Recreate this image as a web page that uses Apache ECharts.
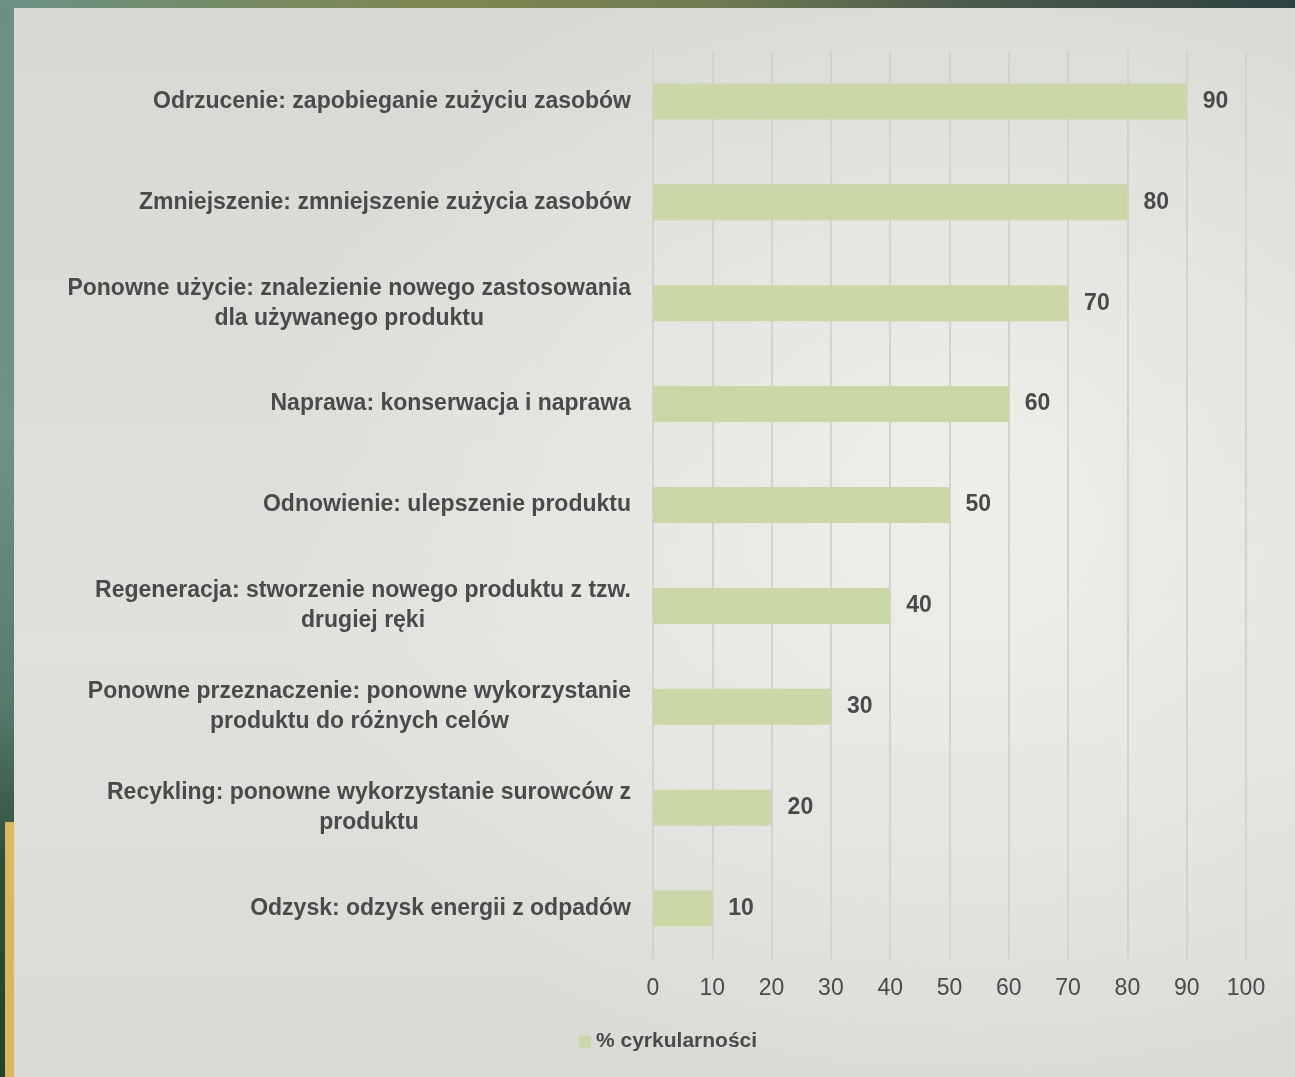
<!DOCTYPE html>
<html>
<head>
<meta charset="utf-8">
<script src="https://cdn.jsdelivr.net/npm/echarts@6/dist/echarts.min.js"></script>
<style>
  html, body { margin: 0; padding: 0; width: 1295px; height: 1077px; overflow: hidden; }
  body { position: relative; background: #5e857a; }
  #topband { position: absolute; left: 0; top: 0; width: 1295px; height: 8px;
    background: linear-gradient(90deg, #6b9185 0%, #778a62 20%, #7e8650 35%, #6f7b52 55%, #4a5a4c 75%, #2f4140 100%); }
  #leftband { position: absolute; left: 0; top: 8px; width: 14px; height: 1069px;
    background: linear-gradient(180deg, #6a9084 0%, #6d9287 40%, #567a6c 65%, #2f4d3e 80%, #24402f 100%); }
  #yellow { position: absolute; left: 5px; top: 822px; width: 9px; height: 255px; background: #d9b85e; }
  #panel { position: absolute; left: 14px; top: 8px; width: 1281px; height: 1069px;
    background:
      radial-gradient(ellipse 700px 600px at 950px 500px, rgba(240,240,236,0.9) 0%, rgba(240,240,236,0) 100%),
      linear-gradient(180deg, #d7d9d4 0%, #dcddd8 30%, #e0e1dc 60%, #dadbd6 100%); }
  #chart { position: absolute; left: 0; top: 0; width: 1295px; height: 1077px; }
</style>
</head>
<body>
<div id="topband"></div>
<div id="leftband"></div>
<div id="yellow"></div>
<div id="panel"></div>
<div id="chart"></div>
<script>
const categories = [
  'Odrzucenie: zapobieganie zużyciu zasobów',
  'Zmniejszenie: zmniejszenie zużycia zasobów',
  'Ponowne użycie: znalezienie nowego zastosowania\ndla używanego produktu',
  'Naprawa: konserwacja i naprawa',
  'Odnowienie: ulepszenie produktu',
  'Regeneracja: stworzenie nowego produktu z tzw.\ndrugiej ręki',
  'Ponowne przeznaczenie: ponowne wykorzystanie\nproduktu do różnych celów',
  'Recykling: ponowne wykorzystanie surowców z\nproduktu',
  'Odzysk: odzysk energii z odpadów'
];
const values = [90, 80, 70, 60, 50, 40, 30, 20, 10];
const seriesName = '% cyrkularności';
const xTicks = { min: 0, max: 100, interval: 10 };

const FONT = 'Liberation Sans, Arial, sans-serif';
const FS = 23;
const TXT = '#4a4a4a';

const cv = document.createElement('canvas').getContext('2d');
cv.font = 'bold ' + FS + 'px ' + FONT;
const yData = categories.map(function (c) {
  if (c.indexOf('\n') < 0) return c;
  const w = Math.max.apply(null, c.split('\n').map(function (l) { return cv.measureText(l).width; }));
  return { value: c, textStyle: { align: 'center', padding: [0, w, 0, 0] } };
});

const chart = echarts.init(document.getElementById('chart'), null, { renderer: 'canvas' });
chart.setOption({
  backgroundColor: 'transparent',
  animation: false,
  grid: { left: 653, right: 49, top: 51, bottom: 118, containLabel: false },
  legend: {
    data: [seriesName], left: 574, top: 1026, icon: 'rect', itemWidth: 12, itemHeight: 12, itemGap: 6,
    textStyle: { color: TXT, fontSize: 21, fontFamily: FONT, fontWeight: 'bold' }
  },
  xAxis: {
    type: 'value', min: xTicks.min, max: xTicks.max, interval: xTicks.interval,
    axisLine: { show: false }, axisTick: { show: false },
    splitLine: { show: true, lineStyle: { color: '#d2d3cf', width: 2 } },
    axisLabel: { color: TXT, fontSize: FS, fontFamily: FONT, margin: 18 }
  },
  yAxis: {
    type: 'category', inverse: true, data: yData,
    axisLine: { show: false }, axisTick: { show: false },
    axisLabel: { color: TXT, fontSize: FS, fontFamily: FONT, margin: 22, lineHeight: 30, fontWeight: 'bold' }
  },
  series: [{
    name: seriesName, type: 'bar', data: values, barWidth: 36,
    itemStyle: { color: '#cbd7a6' },
    label: { show: true, position: 'right', distance: 16, color: TXT, fontSize: FS, fontFamily: FONT, fontWeight: 'bold' }
  }]
});
</script>
</body>
</html>
